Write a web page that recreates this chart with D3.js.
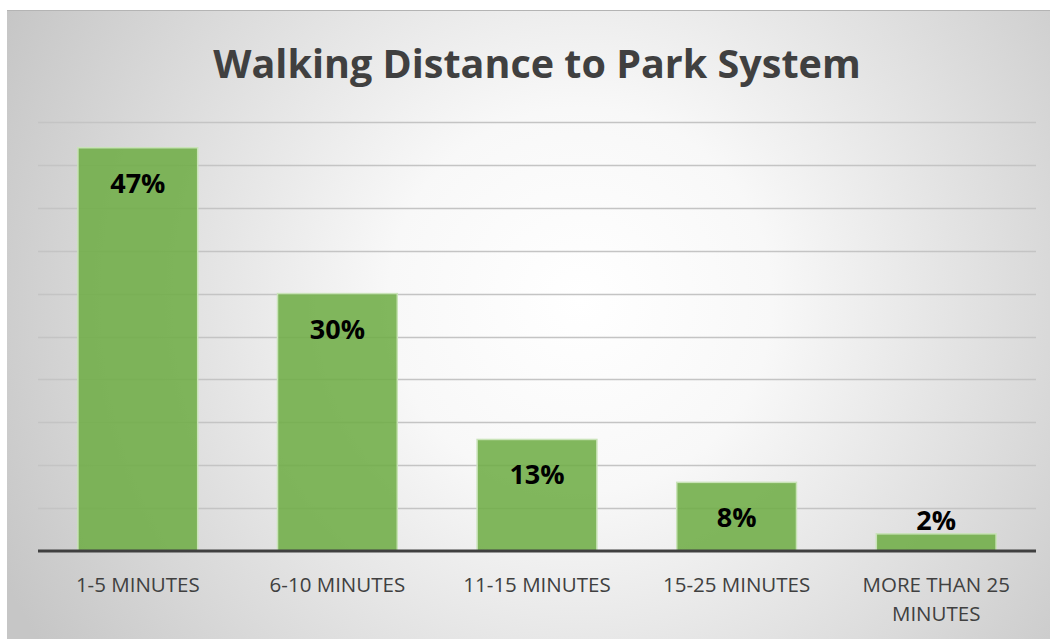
<!DOCTYPE html>
<html>
<head>
<meta charset="utf-8">
<script src="https://cdn.jsdelivr.net/npm/d3@7"></script>
<style>
  body { margin: 0; background: #fff; }
  svg { display: block; }
</style>
</head>
<body>
<div id="chart"></div>
<script>
var categories = ['1-5 MINUTES', '6-10 MINUTES', '11-15 MINUTES', '15-25 MINUTES', 'MORE THAN 25 MINUTES'];
var values = [47, 30, 13, 8, 2];
var gridTicks = [0, 5, 10, 15, 20, 25, 30, 35, 40, 45, 50];
var title = 'Walking Distance to Park System';

const width = 1050;
const height = 639;
const frame = { left: 7, top: 10 };
const margin = { left: 38, right: 14, top: 122, bottom: 88 };
const chartWidth = width - margin.left - margin.right;
const chartHeight = height - margin.top - margin.bottom;

var svg = d3.select('#chart')
  .append('svg')
  .attr('width', width)
  .attr('height', height);

// Background gradient
var defs = svg.append('defs');
var grad = defs.append('radialGradient')
  .attr('id', 'bg')
  .attr('gradientUnits', 'userSpaceOnUse')
  .attr('cx', 580).attr('cy', 300).attr('r', 640);
grad.append('stop').attr('offset', '0').attr('stop-color', '#ffffff');
grad.append('stop').attr('offset', '0.3').attr('stop-color', '#f8f8f8');
grad.append('stop').attr('offset', '1').attr('stop-color', '#c6c6c6');

svg.append('rect')
  .attr('x', frame.left)
  .attr('y', frame.top)
  .attr('width', width - frame.left)
  .attr('height', height - frame.top)
  .attr('fill', 'url(#bg)');

svg.append('line')
  .attr('x1', frame.left).attr('x2', width)
  .attr('y1', frame.top + 0.5).attr('y2', frame.top + 0.5)
  .attr('stroke', '#b4b4b4');

// Scales
var scaleX = d3.scaleBand()
  .domain(categories)
  .range([0, chartWidth])
  .paddingInner(0.4)
  .paddingOuter(0.2);

var scaleY = d3.scaleLinear()
  .domain([0, 50])
  .range([chartHeight, 0]);

var group = svg.append('g')
  .attr('transform', 'translate(' + margin.left + ',' + margin.top + ')');

// Gridlines
group.append('g')
  .selectAll('line')
  .data(gridTicks.slice(1))
  .enter()
  .append('line')
  .attr('x1', 0)
  .attr('x2', chartWidth)
  .attr('y1', function (d) { return Math.round(scaleY(d)) + 0.5; })
  .attr('y2', function (d) { return Math.round(scaleY(d)) + 0.5; })
  .attr('stroke', '#c4c4c4')
  .attr('stroke-width', 1.5);

// Bars
group.selectAll('rect.bar')
  .data(values)
  .enter()
  .append('rect')
  .attr('class', 'bar')
  .attr('x', function (d, i) { return scaleX(categories[i]); })
  .attr('y', function (d) { return scaleY(d); })
  .attr('width', scaleX.bandwidth())
  .attr('height', function (d) { return chartHeight - scaleY(d); })
  .attr('fill', '#70ad47')
  .attr('fill-opacity', 0.88)
  .attr('stroke', '#c9e3b8')
  .attr('stroke-width', 1.5);

// Baseline
group.append('line')
  .attr('x1', 0).attr('x2', chartWidth)
  .attr('y1', chartHeight).attr('y2', chartHeight)
  .attr('stroke', '#404040')
  .attr('stroke-width', 3);

// Value labels
group.selectAll('text.value')
  .data(values)
  .enter()
  .append('text')
  .attr('class', 'value')
  .text(function (d) { return d + '%'; })
  .attr('x', function (d, i) { return scaleX(categories[i]) + scaleX.bandwidth() / 2; })
  .attr('y', function (d) {
    var barH = chartHeight - scaleY(d);
    return barH > 40 ? scaleY(d) + 45 : scaleY(d) - 4;
  })
  .attr('text-anchor', 'middle')
  .attr('font-family', 'Open Sans, sans-serif')
  .attr('font-weight', 'bold')
  .attr('font-size', '27px')
  .attr('fill', '#000');

// Category labels
var catLabels = group.selectAll('text.cat')
  .data(categories)
  .enter()
  .append('text')
  .attr('class', 'cat')
  .attr('x', function (d) { return scaleX(d) + scaleX.bandwidth() / 2; })
  .attr('y', chartHeight + 41)
  .attr('text-anchor', 'middle')
  .attr('font-family', 'Open Sans, sans-serif')
  .attr('font-size', '20.5px')
  .attr('fill', '#404040');

catLabels.each(function (d) {
  var lines = d === 'MORE THAN 25 MINUTES' ? ['MORE THAN 25', 'MINUTES'] : [d];
  var t = d3.select(this);
  lines.forEach(function (l, i) {
    t.append('tspan')
      .attr('x', t.attr('x'))
      .attr('dy', i === 0 ? 0 : 29)
      .text(l);
  });
});

// Title
svg.append('text')
  .text(title)
  .attr('x', margin.left + chartWidth / 2)
  .attr('y', 78)
  .attr('text-anchor', 'middle')
  .attr('font-family', 'Open Sans, sans-serif')
  .attr('font-weight', 'bold')
  .attr('font-size', '39.5px')
  .attr('fill', '#404040');
</script>
</body>
</html>
